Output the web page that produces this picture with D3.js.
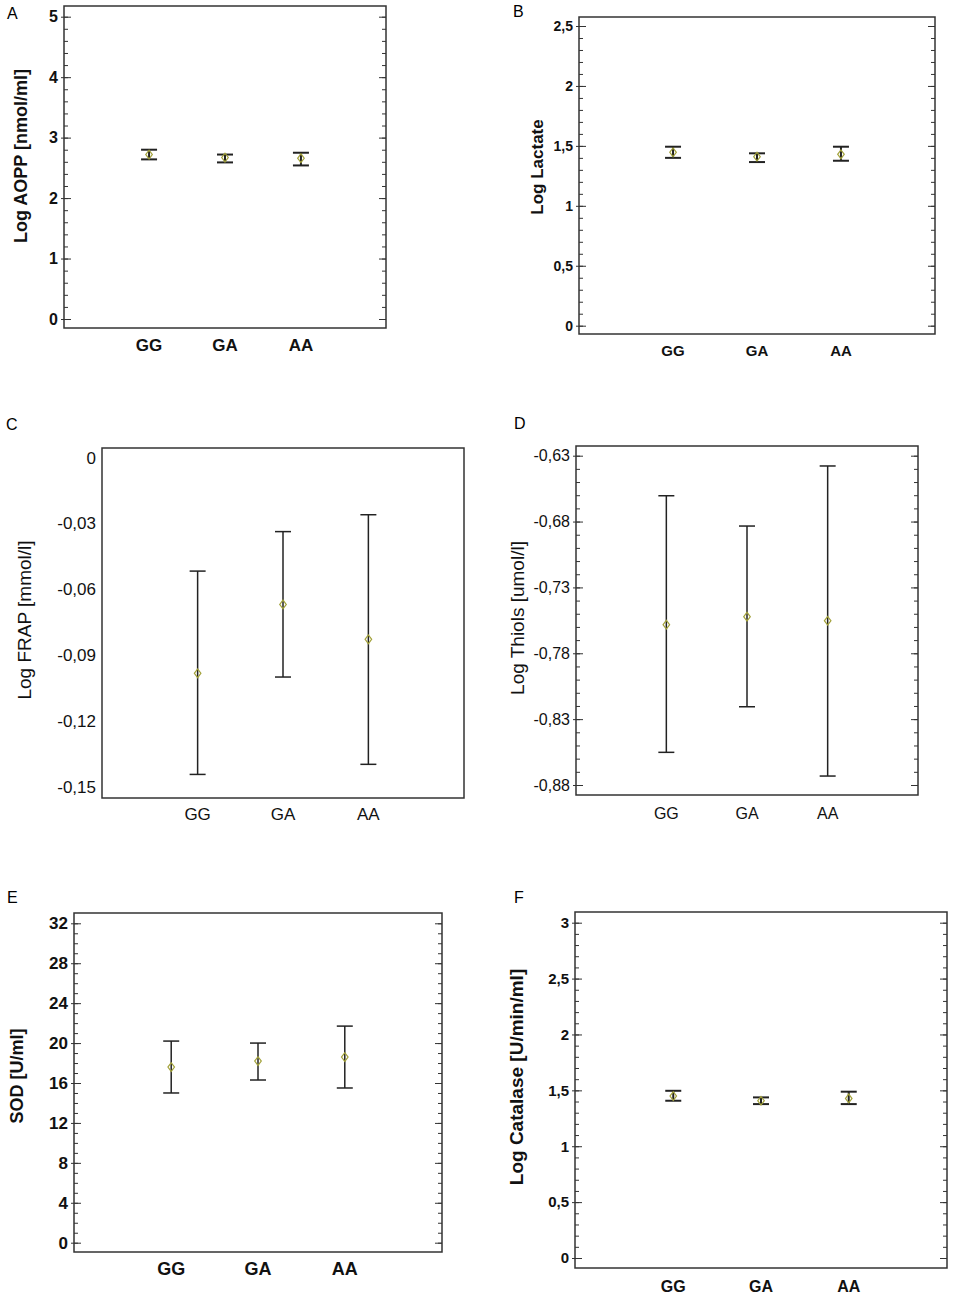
<!DOCTYPE html>
<html lang="en">

<head>
    <meta charset="UTF-8">
    <title>Genotypes GG / GA / AA</title>
    <style>
        body {
            margin: 0;
            background: #fff;
        }
        svg {
            display: block;
            font-family: "Liberation Sans", Arial, sans-serif;
        }
    </style>
</head>

<body>
    <script src="https://cdn.jsdelivr.net/npm/d3@7"></script>
    <script>
        // categories
        const genotypes = ['GG', 'GA', 'AA']

        // A - AOPP
        const aoppMean = [2.72, 2.67, 2.66]
        const aoppLow = [2.64, 2.59, 2.54]
        const aoppHigh = [2.80, 2.72, 2.75]
        const aoppTicks = [0, 1, 2, 3, 4, 5]

        // B - lactate
        const lactateMean = [1.446, 1.41, 1.43]
        const lactateLow = [1.40, 1.365, 1.376]
        const lactateHigh = [1.493, 1.438, 1.493]
        const lactateTicks = [0, 0.5, 1, 1.5, 2, 2.5]

        // C - FRAP
        const frapMean = [-0.0983, -0.0669, -0.0828]
        const frapLow = [-0.1444, -0.1000, -0.1398]
        const frapHigh = [-0.0517, -0.0337, -0.026]
        const frapTicks = [0, -0.03, -0.06, -0.09, -0.12, -0.15]

        // D - thiols
        const thiolsMean = [-0.7583, -0.7522, -0.7553]
        const thiolsLow = [-0.8552, -0.8206, -0.8732]
        const thiolsHigh = [-0.6604, -0.6834, -0.6378]
        const thiolsTicks = [-0.63, -0.68, -0.73, -0.78, -0.83, -0.88]

        // E - SOD
        const sodMean = [17.6, 18.2, 18.6]
        const sodLow = [15.0, 16.3, 15.5]
        const sodHigh = [20.2, 20.0, 21.7]
        const sodTicks = [0, 4, 8, 12, 16, 20, 24, 28, 32]

        // F - catalase
        const catalaseMean = [1.449, 1.407, 1.428]
        const catalaseLow = [1.407, 1.377, 1.377]
        const catalaseHigh = [1.496, 1.437, 1.488]
        const catalaseTicks = [0, 0.5, 1, 1.5, 2, 2.5, 3]

        // decimal comma
        const locale = d3.formatLocale({ decimal: ",", thousands: ".", grouping: [3], currency: ["", ""], minus: "-" })
        const fmt = locale.format(".2~f")

        const svg = d3.select('body')
            .append('svg')
            .attr('width', 955)
            .attr('height', 1300)

        // panel layout (frame, tick pixel positions, text styles)
        const panels = [
            { letter: 'A', lx: 7, ly: 19, title: 'Log AOPP [nmol/ml]', tx: 21, ty: 156,
              mean: aoppMean, low: aoppLow, high: aoppHigh, ticks: aoppTicks, minor: 0.2,
              x0: 64, x1: 386, y0: 6, y1: 328, r0: 319, r1: 16.7,
              bold: true, tickFs: 16, catFs: 17, titleFs: 18, catY: 351, barW: 2 },
            { letter: 'B', lx: 513, ly: 17, title: 'Log Lactate', tx: 537, ty: 167,
              mean: lactateMean, low: lactateLow, high: lactateHigh, ticks: lactateTicks, minor: 0.1,
              x0: 579, x1: 935, y0: 17, y1: 334, r0: 325.7, r1: 26,
              bold: true, tickFs: 14, catFs: 15, titleFs: 17, catY: 356, barW: 2 },
            { letter: 'C', lx: 6, ly: 430, title: 'Log FRAP [mmol/l]', tx: 24, ty: 620,
              mean: frapMean, low: frapLow, high: frapHigh, ticks: frapTicks, minor: 0,
              x0: 102, x1: 464, y0: 448, y1: 798, r0: 786.7, r1: 457.7,
              bold: false, tickFs: 17, catFs: 17, titleFs: 19, catY: 820, barW: 1.5 },
            { letter: 'D', lx: 514, ly: 429, title: 'Log Thiols [umol/l]', tx: 517, ty: 618,
              mean: thiolsMean, low: thiolsLow, high: thiolsHigh, ticks: thiolsTicks, minor: 0.01,
              x0: 576, x1: 918, y0: 446, y1: 795, r0: 785, r1: 455.7,
              bold: false, tickFs: 16, catFs: 16, titleFs: 19, catY: 819, barW: 1.5 },
            { letter: 'E', lx: 7, ly: 903, title: 'SOD [U/ml]', tx: 17, ty: 1076,
              mean: sodMean, low: sodLow, high: sodHigh, ticks: sodTicks, minor: 1,
              x0: 74, x1: 442, y0: 913, y1: 1252, r0: 1242.7, r1: 923.3,
              bold: true, tickFs: 17, catFs: 18, titleFs: 18, catY: 1275, barW: 1.5 },
            { letter: 'F', lx: 514, ly: 903, title: 'Log Catalase [U/min/ml]', tx: 516, ty: 1077,
              mean: catalaseMean, low: catalaseLow, high: catalaseHigh, ticks: catalaseTicks, minor: 0.1,
              x0: 575, x1: 947, y0: 912, y1: 1268, r0: 1258, r1: 922.7,
              bold: true, tickFs: 15, catFs: 16, titleFs: 19, catY: 1292, barW: 2 }
        ]

        panels.forEach(dessinerPanneau)

        function dessinerPanneau(p) {
            const g = svg.append('g')
            const weight = p.bold ? 'bold' : 'normal'
            const tMin = d3.min(p.ticks), tMax = d3.max(p.ticks)

            // scales
            const x = d3.scalePoint()
                .domain(genotypes)
                .range([p.x0, p.x1])
                .padding(1.12)

            const y = d3.scaleLinear()
                .domain([tMin, tMax])
                .range([p.r0, p.r1])

            // panel letter
            g.append('text')
                .attr('x', p.lx)
                .attr('y', p.ly)
                .attr('font-size', 16)
                .text(p.letter)

            // minor ticks
            if (p.minor) {
                const minorTicks = d3.range(tMin, tMax + p.minor / 2, p.minor).map(v => +v.toFixed(4))
                g.append('g')
                    .attr('transform', `translate(${p.x0},0)`)
                    .call(d3.axisLeft(y).tickValues(minorTicks).tickSize(-4).tickFormat(''))
                g.append('g')
                    .attr('transform', `translate(${p.x1},0)`)
                    .call(d3.axisRight(y).tickValues(minorTicks).tickSize(-4).tickFormat(''))
            }

            // major ticks + labels
            const hasTicks = p.minor > 0
            const axeG = g.append('g')
                .attr('transform', `translate(${p.x0},0)`)
                .call(d3.axisLeft(y).tickValues(p.ticks).tickSize(hasTicks ? -7 : 0).tickPadding(6).tickFormat(fmt))
            axeG.selectAll('.tick line').attr('x1', hasTicks ? -3 : 0)
            axeG.selectAll('.tick text')
                .attr('font-size', p.tickFs)
                .attr('font-weight', weight)
                .attr('font-family', '"Liberation Sans", Arial, sans-serif')
                .attr('fill', '#111')

            if (hasTicks) {
                g.append('g')
                    .attr('transform', `translate(${p.x1},0)`)
                    .call(d3.axisRight(y).tickValues(p.ticks).tickSize(-7).tickFormat(''))
            }

            g.selectAll('.domain').remove()
            g.selectAll('.tick line').attr('stroke', '#333')

            // frame
            g.append('rect')
                .attr('x', p.x0)
                .attr('y', p.y0)
                .attr('width', p.x1 - p.x0)
                .attr('height', p.y1 - p.y0)
                .attr('fill', 'none')
                .attr('stroke', '#333')
                .attr('stroke-width', 1.5)

            // category labels
            g.selectAll('text.cat')
                .data(genotypes)
                .enter()
                .append('text')
                .attr('class', 'cat')
                .attr('x', d => x(d))
                .attr('y', p.catY)
                .attr('text-anchor', 'middle')
                .attr('font-size', p.catFs)
                .attr('font-weight', weight)
                .attr('fill', '#111')
                .text(d => d)

            // y title
            g.append('text')
                .attr('transform', `translate(${p.tx},${p.ty}) rotate(-90)`)
                .attr('dy', '0.36em')
                .attr('text-anchor', 'middle')
                .attr('font-size', p.titleFs)
                .attr('font-weight', weight)
                .attr('fill', '#111')
                .text(p.title)

            // error bars
            const capW = 16
            const barres = g.append('g')
                .attr('stroke', '#222')
                .attr('stroke-width', p.barW)

            barres.selectAll('line.v')
                .data(genotypes)
                .enter()
                .append('line')
                .attr('x1', d => x(d))
                .attr('x2', d => x(d))
                .attr('y1', (d, i) => y(p.low[i]))
                .attr('y2', (d, i) => y(p.high[i]))

            barres.selectAll('line.top')
                .data(genotypes)
                .enter()
                .append('line')
                .attr('x1', d => x(d) - capW / 2)
                .attr('x2', d => x(d) + capW / 2)
                .attr('y1', (d, i) => y(p.high[i]))
                .attr('y2', (d, i) => y(p.high[i]))

            barres.selectAll('line.bottom')
                .data(genotypes)
                .enter()
                .append('line')
                .attr('x1', d => x(d) - capW / 2)
                .attr('x2', d => x(d) + capW / 2)
                .attr('y1', (d, i) => y(p.low[i]))
                .attr('y2', (d, i) => y(p.low[i]))

            // means
            g.selectAll('path.mean')
                .data(genotypes)
                .enter()
                .append('path')
                .attr('d', d3.symbol(d3.symbolDiamond, 22))
                .attr('transform', (d, i) => `translate(${x(d)},${y(p.mean[i])}) scale(1.3,1)`)
                .attr('fill', 'none')
                .attr('stroke', '#a3a23a')
                .attr('stroke-width', 1)
        }
    </script>
</body>

</html>
